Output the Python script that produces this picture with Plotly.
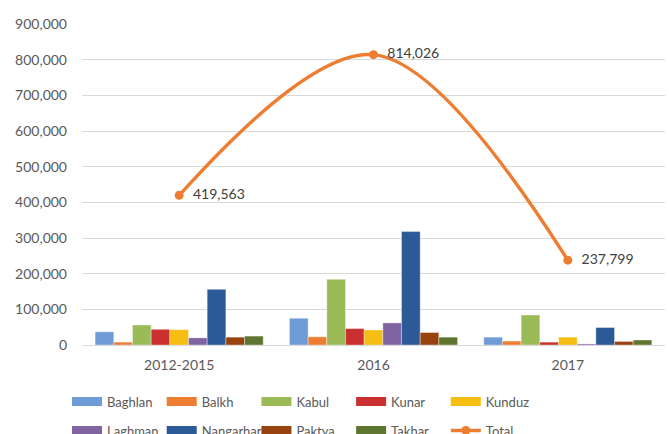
import plotly.graph_objects as go

categories = ["2012-2015", "2016", "2017"]

baghlan = [37000, 75000, 22000]
balkh = [8000, 23000, 11000]
kabul = [56000, 184000, 84000]
kunar = [44000, 46000, 8000]
kunduz = [43000, 42000, 22000]
laghman = [20000, 62000, 3000]
nangarhar = [156000, 318000, 49000]
paktya = [22000, 35000, 10000]
takhar = [25000, 22000, 14000]
totals = [419563, 814026, 237799]

names = ["Baghlan", "Balkh", "Kabul", "Kunar", "Kunduz",
         "Laghman", "Nangarhar", "Paktya", "Takhar"]
series = [baghlan, balkh, kabul, kunar, kunduz, laghman, nangarhar, paktya, takhar]
colors = ["#6F9BD7", "#ED7D31", "#9BBB59", "#C9302F", "#F6BD12",
          "#8064A2", "#2C5A96", "#98430F", "#5F7630"]
line_color = "#ED7D31"
text_color = "#595959"
FONT = "Lato"

fig = go.Figure()
for n, s, c in zip(names, series, colors):
    fig.add_trace(go.Bar(
        x=categories, y=s, name=n, marker_color=c,
        marker_line=dict(color="rgba(255,255,255,0.45)", width=0.8),
        showlegend=False,
    ))

fig.add_trace(go.Scatter(
    x=categories, y=totals, name="Total", mode="lines+markers+text",
    line=dict(color=line_color, width=3.4, shape="spline", smoothing=1.0),
    marker=dict(color=line_color, size=9),
    text=["\u00a0\u00a0" + f"{v:,}" for v in totals], textposition="middle right",
    textfont=dict(family=FONT, size=14, color="#404040"),
    showlegend=False, cliponaxis=False,
))

# legend entries (swatches)
for i, (n, c) in enumerate(zip(names, colors)):
    fig.add_trace(go.Scatter(
        x=[None], y=[None], name=n, mode="lines",
        line=dict(color=c, width=9),
        legend="legend" if i < 5 else "legend2",
    ))
fig.add_trace(go.Scatter(
    x=[None], y=[None], name="Total", mode="lines+markers",
    line=dict(color=line_color, width=3.4),
    marker=dict(color=line_color, size=9),
    legend="legend2",
))

legend_common = dict(
    orientation="h", xanchor="left", yanchor="top",
    font=dict(family=FONT, size=13, color=text_color),
    entrywidth=49.7, entrywidthmode="pixels", itemwidth=30,
    bgcolor="rgba(0,0,0,0)", tracegroupgap=0,
)

fig.update_layout(
    width=669, height=434,
    margin=dict(l=82, r=4, t=24, b=89, autoexpand=False),
    paper_bgcolor="white", plot_bgcolor="white",
    font=dict(family=FONT, size=14, color=text_color),
    barmode="group", bargap=0.135, bargroupgap=0,
    legend=dict(x=-0.0257, y=-0.1293, **legend_common),
    legend2=dict(x=-0.0257, y=-0.2196, **legend_common),
    xaxis=dict(
        type="category", showline=True, linecolor="#D9D9D9", linewidth=1,
        showgrid=False, ticks="", ticklabelstandoff=7,
        tickfont=dict(family=FONT, size=14, color=text_color),
    ),
    yaxis=dict(
        range=[0, 900000], dtick=100000, tickformat=",",
        showgrid=True, gridcolor="#D9D9D9", gridwidth=1,
        zeroline=False, showline=False, ticks="", ticklabelstandoff=14,
        tickfont=dict(family=FONT, size=14, color=text_color),
    ),
)

fig.write_html("out.html", config={"displayModeBar": False},
               post_script="document.body.style.margin='0';")
